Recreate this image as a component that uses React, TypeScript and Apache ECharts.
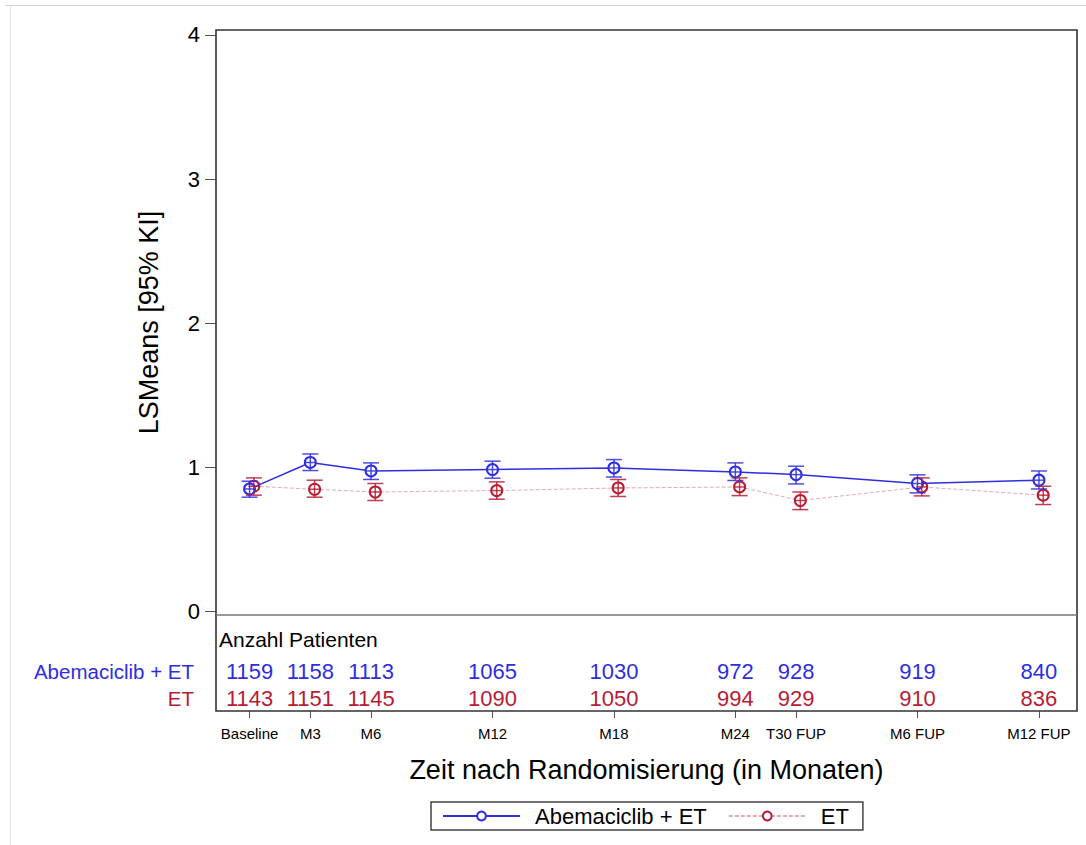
import { useEffect, useRef } from "react";
import * as echarts from "echarts";

// ---------- data ----------
const visits = ["Baseline", "M3", "M6", "M12", "M18", "M24", "T30 FUP", "M6 FUP", "M12 FUP"];
const visitMonths = [0, 3, 6, 12, 18, 24, 27, 33, 39];
const abemaMean = [0.849, 1.033, 0.974, 0.984, 0.995, 0.967, 0.949, 0.887, 0.91];
const abemaLower = [0.792, 0.977, 0.915, 0.924, 0.932, 0.908, 0.884, 0.822, 0.849];
const abemaUpper = [0.903, 1.092, 1.03, 1.042, 1.053, 1.03, 1.007, 0.947, 0.974];
const etMean = [0.868, 0.847, 0.828, 0.838, 0.856, 0.863, 0.769, 0.863, 0.806];
const etLower = [0.806, 0.792, 0.769, 0.778, 0.797, 0.803, 0.706, 0.801, 0.741];
const etUpper = [0.926, 0.91, 0.887, 0.898, 0.915, 0.926, 0.828, 0.926, 0.868];
const abemaN = [1159, 1158, 1113, 1065, 1030, 972, 928, 919, 840];
const etN = [1143, 1151, 1145, 1090, 1050, 994, 929, 910, 836];
const yTicks = [0, 1, 2, 3, 4];
const seriesNames = ["Abemaciclib + ET", "ET"];
const tableTitle = "Anzahl Patienten";
const xTitle = "Zeit nach Randomisierung (in Monaten)";
const yTitle = "LSMeans [95% KI]";

// ---------- style ----------
const FONT = "'Liberation Sans', Arial, sans-serif";
const BLUE = "#2e2ee0";
const RED = "#b81c34";
const RED_LINE = "#e6a9b1";
const X_MIN = -1.66;
const X_MAX = 40.88;
const ET_SHIFT = 0.21;

function errorBarSeries(name: string, shift: number, lo: number[], hi: number[], mean: number[], color: string, opacity: number) {
  return {
    type: "custom",
    name,
    xAxisIndex: 0,
    yAxisIndex: 0,
    z: 4,
    silent: true,
    encode: { x: 0, y: [1, 2, 3] },
    renderItem: (_p: any, api: any) => {
      const x = api.value(0);
      const pLo = api.coord([x, api.value(1)]);
      const pHi = api.coord([x, api.value(2)]);
      const pM = api.coord([x, api.value(3)]);
      const cap = 8;
      const r = 5.5;
      const style = { stroke: color, lineWidth: 1.5, opacity };
      return {
        type: "group",
        children: [
          { type: "line", shape: { x1: pLo[0], y1: pLo[1], x2: pHi[0], y2: pHi[1] }, style },
          { type: "line", shape: { x1: pLo[0] - cap, y1: pLo[1], x2: pLo[0] + cap, y2: pLo[1] }, style },
          { type: "line", shape: { x1: pHi[0] - cap, y1: pHi[1], x2: pHi[0] + cap, y2: pHi[1] }, style },
          { type: "line", shape: { x1: pM[0] - r, y1: pM[1], x2: pM[0] + r, y2: pM[1] }, style },
        ],
      };
    },
    data: visitMonths.map((m, i) => [m + shift, lo[i], hi[i], mean[i]]),
  };
}

function countSeries(row: number, counts: number[], color: string) {
  return {
    type: "scatter",
    xAxisIndex: 1,
    yAxisIndex: 1,
    symbolSize: 1,
    silent: true,
    itemStyle: { color: "rgba(0,0,0,0)" },
    label: {
      show: true,
      position: "inside",
      formatter: (p: any) => String(p.value[2]),
      color,
      fontSize: 22,
      fontFamily: FONT,
      textBorderWidth: 0,
      textBorderColor: "transparent",
      opacity: 1,
    },
    data: visitMonths.map((m, i) => [m, row, counts[i]]),
  };
}

export default function App() {
  const ref = useRef<HTMLDivElement>(null);
  useEffect(() => {
    if (!ref.current) return;
    const chart = echarts.init(ref.current, null, { renderer: "svg" });
    const option: any = {
      animation: false,
      backgroundColor: "#ffffff",
      textStyle: { fontFamily: FONT },
      grid: [
        { left: 216, right: 9, top: 30, height: 585 },
        { left: 216, right: 9, top: 615, height: 96 },
      ],
      xAxis: [
        {
          gridIndex: 0,
          type: "value",
          min: X_MIN,
          max: X_MAX,
          show: false,
        },
        {
          gridIndex: 1,
          type: "value",
          min: X_MIN,
          max: X_MAX,
          position: "bottom",
          axisLine: { show: false, onZero: false },
          splitLine: { show: false },
          axisTick: { show: true, customValues: visitMonths, length: 7, lineStyle: { color: "#555", width: 1 } },
          axisLabel: {
            customValues: visitMonths,
            formatter: (v: number) => {
              const i = visitMonths.indexOf(Math.round(v));
              return i >= 0 ? visits[i] : "";
            },
            margin: 15,
            fontSize: 15,
            color: "#000",
            fontFamily: FONT,
          },
          name: xTitle,
          nameLocation: "middle",
          nameGap: 45,
          nameTextStyle: { fontSize: 27, color: "#000", fontFamily: FONT },
        },
      ],
      yAxis: [
        {
          gridIndex: 0,
          type: "value",
          position: "left",
          min: -0.0257,
          max: 4.0347,
          axisLine: { show: false, onZero: false },
          splitLine: { show: false },
          axisTick: { show: true, customValues: yTicks, length: 11, lineStyle: { color: "#555", width: 1 } },
          axisLabel: {
            customValues: yTicks,
            margin: 16,
            fontSize: 22,
            color: "#000",
            fontFamily: FONT,
          },
          name: yTitle,
          nameLocation: "middle",
          nameRotate: 90,
          nameGap: 54,
          nameTextStyle: { fontSize: 27, color: "#000", fontFamily: FONT },
        },
        {
          gridIndex: 1,
          type: "value",
          position: "left",
          inverse: true,
          min: -1.029,
          max: 2.449,
          axisLine: { show: false, onZero: false },
          axisTick: { show: false },
          splitLine: { show: false },
          axisLabel: {
            customValues: [1, 2],
            margin: 22,
            formatter: (v: number) => (Math.round(v) === 1 ? "{a|" + seriesNames[0] + "}" : "{b|" + seriesNames[1] + "}"),
            rich: {
              a: { color: BLUE, fontSize: 20.5, fontFamily: FONT },
              b: { color: RED, fontSize: 20.5, fontFamily: FONT },
            },
          },
        },
      ],
      legend: {
        left: 431,
        top: 802,
        orient: "horizontal",
        data: seriesNames,
        itemWidth: 77,
        itemHeight: 11,
        itemGap: 21,
        padding: [3, 14, 3, 11],
        borderColor: "#444",
        borderWidth: 1.5,
        selectedMode: false,
        textStyle: { fontSize: 22, color: "#000", fontFamily: FONT, padding: [0, 0, 0, 10] },
      },
      graphic: [
        { type: "line", shape: { x1: 5, y1: 5.5, x2: 1086, y2: 5.5 }, style: { stroke: "#d2d2d2", lineWidth: 1 }, silent: true },
        { type: "line", shape: { x1: 10.5, y1: 5.5, x2: 10.5, y2: 845 }, style: { stroke: "#e4e4e4", lineWidth: 1 }, silent: true },
        { type: "rect", shape: { x: 216, y: 30, width: 861, height: 681 }, style: { fill: "none", stroke: "#333", lineWidth: 1.6 }, silent: true, z: 10 },
        { type: "line", shape: { x1: 216, y1: 615, x2: 1077, y2: 615 }, style: { stroke: "#777", lineWidth: 1.5 }, silent: true, z: 10 },
        {
          type: "text",
          x: 219,
          y: 639.5,
          style: { text: tableTitle, fontSize: 21, fill: "#000", fontFamily: FONT, verticalAlign: "middle", align: "left" },
          silent: true,
        },
      ],
      series: [
        {
          type: "line",
          name: seriesNames[1],
          xAxisIndex: 0,
          yAxisIndex: 0,
          z: 2,
          data: visitMonths.map((m, i) => [m + ET_SHIFT, etMean[i]]),
          symbol: "emptyCircle",
          symbolSize: 11,
          lineStyle: { color: RED_LINE, width: 1, type: [4, 2] },
          itemStyle: { color: RED, borderColor: RED, borderWidth: 1.5 },
        },
        {
          type: "line",
          name: seriesNames[0],
          xAxisIndex: 0,
          yAxisIndex: 0,
          z: 3,
          data: visitMonths.map((m, i) => [m, abemaMean[i]]),
          symbol: "emptyCircle",
          symbolSize: 11,
          lineStyle: { color: BLUE, width: 1.5 },
          itemStyle: { color: BLUE, borderColor: BLUE, borderWidth: 1.5 },
        },
        errorBarSeries("etErr", ET_SHIFT, etLower, etUpper, etMean, RED, 0.85),
        errorBarSeries("abemaErr", 0, abemaLower, abemaUpper, abemaMean, BLUE, 0.85),
        countSeries(1, abemaN, BLUE),
        countSeries(2, etN, RED),
      ],
    };
    chart.setOption(option);
    return () => chart.dispose();
  }, []);
  return (
    <div
      ref={ref}
      style={{ position: "fixed", left: 0, top: 0, width: 1086, height: 845, background: "#fff" }}
    />
  );
}
